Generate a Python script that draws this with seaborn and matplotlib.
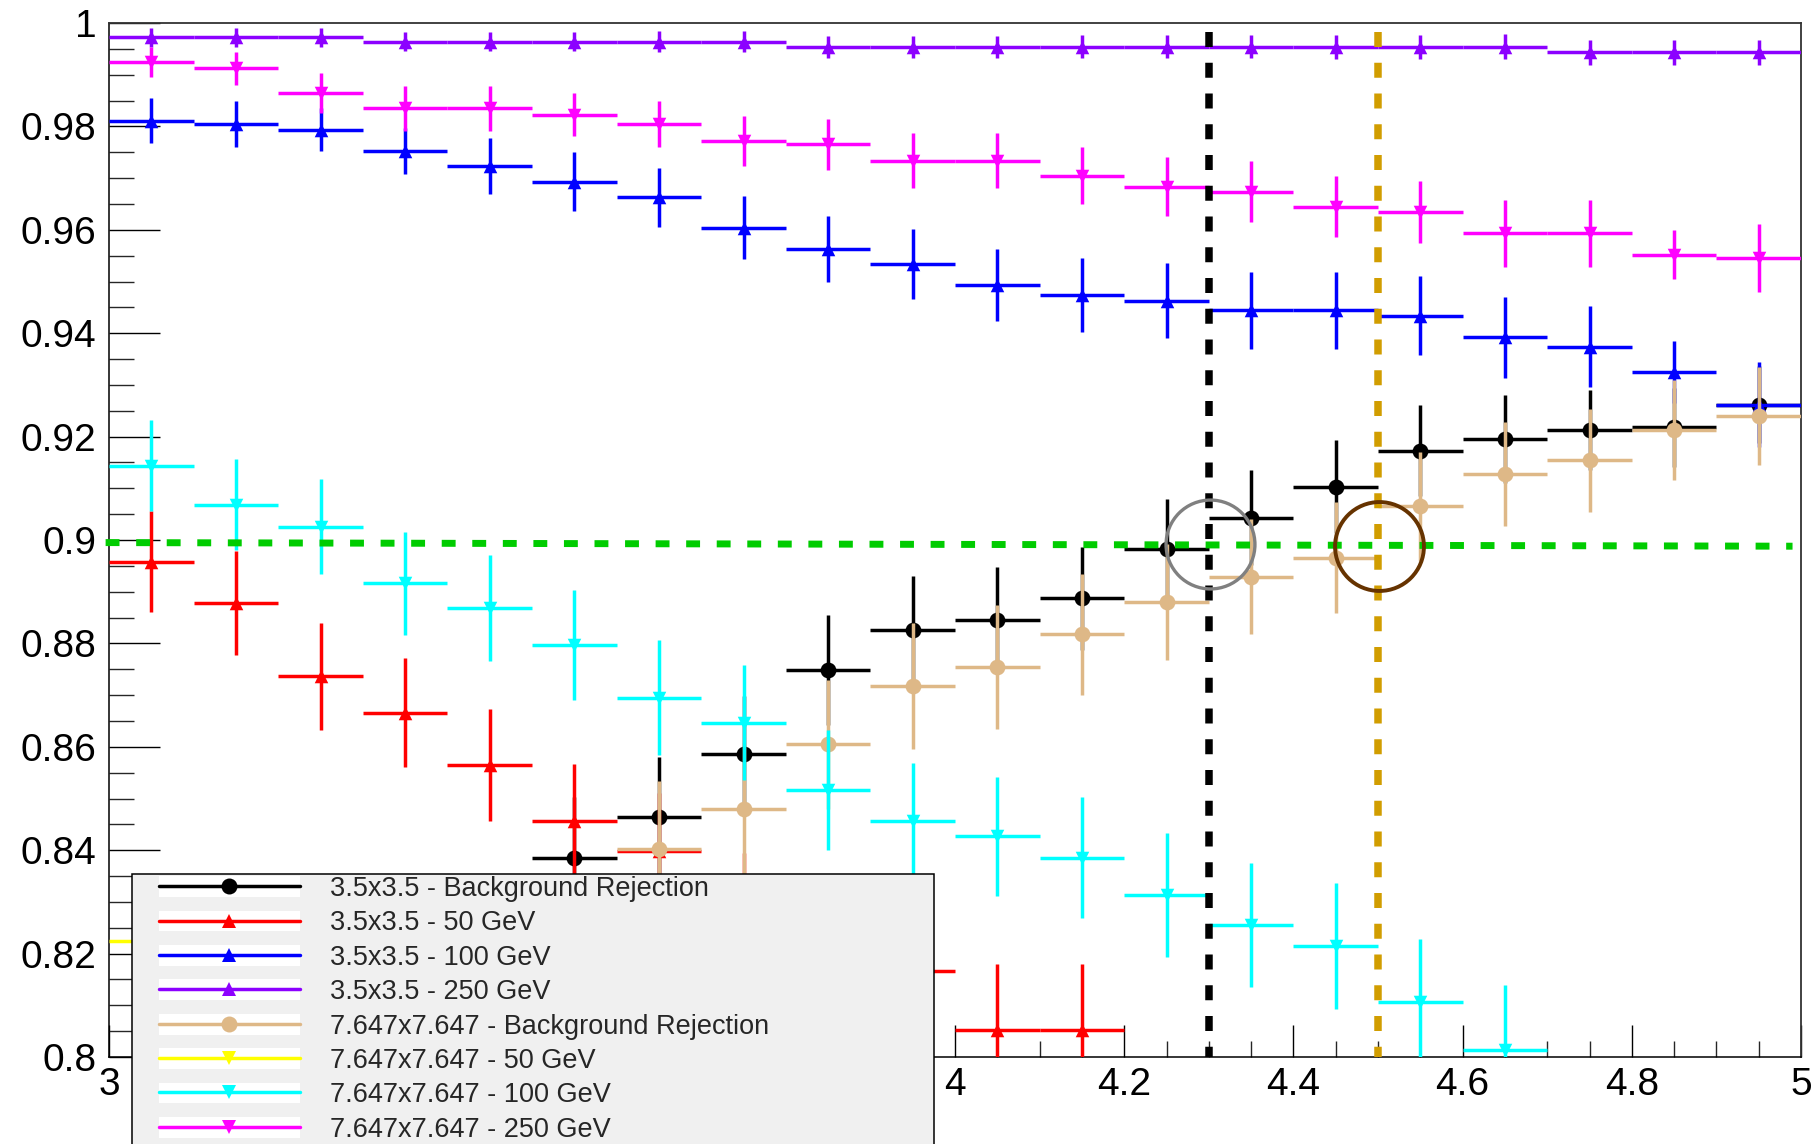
import numpy as np
import pandas as pd
import seaborn as sns
import matplotlib.pyplot as plt
from matplotlib.lines import Line2D
from matplotlib.patches import Patch, Rectangle
from matplotlib.legend_handler import HandlerTuple
from matplotlib.ticker import MultipleLocator, FuncFormatter

# ******************* data *******************
bin_centres = [3.05, 3.15, 3.25, 3.35, 3.45, 3.55, 3.65, 3.75, 3.85, 3.95,
               4.05, 4.15, 4.25, 4.35, 4.45, 4.55, 4.65, 4.75, 4.85, 4.95]
bin_half_width = 0.05

series_labels = [
    "3.5x3.5 - Background Rejection",
    "3.5x3.5 - 50 GeV",
    "3.5x3.5 - 100 GeV",
    "3.5x3.5 - 250 GeV",
    "7.647x7.647 - Background Rejection",
    "7.647x7.647 - 50 GeV",
    "7.647x7.647 - 100 GeV",
    "7.647x7.647 - 250 GeV",
]

rej_35 = [0.795, 0.800, 0.808, 0.815, 0.822, 0.8385, 0.8465, 0.8587, 0.8748, 0.8826,
          0.8845, 0.8887, 0.8983, 0.9043, 0.9103, 0.9173, 0.9195, 0.9213, 0.9218, 0.9262]
err_rej_35 = [0.012, 0.012, 0.012, 0.012, 0.012, 0.0118, 0.0115, 0.0112, 0.0106, 0.0104,
              0.0102, 0.0099, 0.0096, 0.0092, 0.0090, 0.0088, 0.0085, 0.0078, 0.0076, 0.0074]

sig50_35 = [0.8958, 0.8878, 0.8736, 0.8666, 0.8565, 0.8456, 0.8398, 0.828, 0.822, 0.8166,
            0.8053, 0.8053, 0.786, 0.782, 0.778, 0.774, 0.770, 0.766, 0.762, 0.758]
err_sig50_35 = [0.0098, 0.0100, 0.0103, 0.0105, 0.0108, 0.0110, 0.0112, 0.0115, 0.0118, 0.0121,
                0.0126, 0.0126, 0.0130, 0.0132, 0.0134, 0.0136, 0.0138, 0.0140, 0.0142, 0.0144]

sig100_35 = [0.9811, 0.9805, 0.9794, 0.9752, 0.9723, 0.9693, 0.9663, 0.9604, 0.9563, 0.9534,
             0.9493, 0.9474, 0.9463, 0.9444, 0.9444, 0.9434, 0.9392, 0.9374, 0.9325, 0.9262]
err_sig100_35 = [0.0043, 0.0045, 0.0042, 0.0045, 0.0054, 0.0057, 0.0057, 0.0061, 0.0064, 0.0068,
                 0.0070, 0.0072, 0.0072, 0.0074, 0.0074, 0.0076, 0.0078, 0.0079, 0.0060, 0.0083]

sig250_35 = [0.9972, 0.9972, 0.9972, 0.9964, 0.9964, 0.9964, 0.9964, 0.9964, 0.9954, 0.9954,
             0.9954, 0.9954, 0.9954, 0.9954, 0.9954, 0.9954, 0.9954, 0.9943, 0.9943, 0.9943]
err_sig250_35 = [0.0018, 0.0018, 0.0018, 0.0019, 0.0019, 0.0019, 0.0020, 0.0020, 0.0021, 0.0021,
                 0.0021, 0.0022, 0.0022, 0.0022, 0.0023, 0.0023, 0.0024, 0.0024, 0.0025, 0.0025]

rej_7647 = [0.790, 0.797, 0.804, 0.810, 0.815, 0.820, 0.8402, 0.8480, 0.8605, 0.8718,
            0.8755, 0.8818, 0.8880, 0.8929, 0.8966, 0.9065, 0.9128, 0.9154, 0.9213, 0.9240]
err_rej_7647 = [0.013, 0.013, 0.013, 0.013, 0.013, 0.013, 0.0132, 0.0128, 0.0125, 0.0122,
                0.0120, 0.0117, 0.0113, 0.0111, 0.0108, 0.0105, 0.0101, 0.0099, 0.0097, 0.0095]

sig50_7647 = [0.8225, 0.814, 0.806, 0.800, 0.795, 0.790, 0.786, 0.782, 0.778, 0.774,
              0.770, 0.766, 0.762, 0.758, 0.754, 0.750, 0.746, 0.742, 0.738, 0.734]
err_sig50_7647 = [0.011, 0.011, 0.011, 0.011, 0.011, 0.011, 0.011, 0.011, 0.011, 0.011,
                  0.011, 0.011, 0.011, 0.011, 0.011, 0.011, 0.011, 0.011, 0.011, 0.011]

sig100_7647 = [0.9144, 0.9068, 0.9026, 0.8916, 0.8868, 0.8797, 0.8695, 0.8647, 0.8516, 0.8456,
               0.8427, 0.8385, 0.8314, 0.8255, 0.8215, 0.8107, 0.8013, 0.785, 0.780, 0.775]
err_sig100_7647 = [0.0088, 0.0088, 0.0092, 0.0100, 0.0103, 0.0107, 0.0111, 0.0111, 0.0116, 0.0112,
                   0.0115, 0.0117, 0.0120, 0.0120, 0.0122, 0.0122, 0.0126, 0.0128, 0.0130, 0.0132]

sig250_7647 = [0.9924, 0.9912, 0.9864, 0.9835, 0.9835, 0.9823, 0.9805, 0.9772, 0.9765, 0.9734,
               0.9734, 0.9705, 0.9683, 0.9674, 0.9645, 0.9634, 0.9593, 0.9593, 0.9552, 0.9545]
err_sig250_7647 = [0.0029, 0.0031, 0.0039, 0.0043, 0.0043, 0.0041, 0.0044, 0.0048, 0.0049, 0.0053,
                   0.0053, 0.0055, 0.0057, 0.0059, 0.0059, 0.0060, 0.0064, 0.0064, 0.0048, 0.0066]

# cut positions / working point marked on the plot
cut_35 = 4.3
cut_7647 = 4.5
target_y_start = 0.8995
target_y_end = 0.8988
circle_35 = (4.302, 0.8992)
circle_7647 = (4.501, 0.8989)

# x tick labels that sit under the legend box in the reference
hidden_xlabels = [3.2, 3.4, 3.6, 3.8]

series_values = [rej_35, sig50_35, sig100_35, sig250_35,
                 rej_7647, sig50_7647, sig100_7647, sig250_7647]
series_errors = [err_rej_35, err_sig50_35, err_sig100_35, err_sig250_35,
                 err_rej_7647, err_sig50_7647, err_sig100_7647, err_sig250_7647]

series_colors = ["#000000", "#ff0000", "#0000ff", "#8c00ff",
                 "#deb887", "#ffff00", "#00ffff", "#ff00ff"]
series_markers = ["o", "^", "^", "^", "o", "v", "v", "v"]

# long-form table
rows = []
for lab, vals, errs in zip(series_labels, series_values, series_errors):
    for xc, v, e in zip(bin_centres, vals, errs):
        rows.append({"series": lab, "x": xc, "y": v, "err": e})
df = pd.DataFrame(rows)

# ******************* plot *******************
sns.set_style("white")
plt.rcParams["font.family"] = ["Liberation Sans", "DejaVu Sans"]

W, H = 1813, 1144
fig = plt.figure(figsize=(W / 100, H / 100), dpi=100)
ax = fig.add_axes([109 / W, 1 - 1057 / H, (1801 - 109) / W, (1057 - 23) / H])

line_w = 2.5
for i, lab in enumerate(series_labels):
    sub = df[df["series"] == lab]
    z = 3 + i * 0.1
    ax.errorbar(sub["x"], sub["y"], xerr=bin_half_width, yerr=sub["err"], fmt="none",
                ecolor=series_colors[i], elinewidth=line_w, capsize=0, zorder=z)
    msize = 130 if series_markers[i] == "o" else 95
    sns.scatterplot(data=sub, x="x", y="y", marker=series_markers[i], s=msize,
                    color=series_colors[i], linewidth=0, ax=ax, zorder=z + 0.05,
                    legend=False)

# working point lines
ax.plot([cut_35, cut_35], [0.9983, 0.8], color="black", lw=5.4,
        dashes=(2.0, 2.1), zorder=10, dash_capstyle="butt")
ax.plot([cut_7647, cut_7647], [0.9983, 0.8], color="#d19d00", lw=5.4,
        dashes=(2.0, 2.1), zorder=10, dash_capstyle="butt")
ax.plot([2.996, 4.99], [target_y_start, target_y_end], color="#00cc00", lw=5.0,
        dashes=(2.0, 2.4), zorder=10, dash_capstyle="butt", clip_on=False)
ax.plot([circle_35[0]], [circle_35[1]], marker="o", markersize=64, markerfacecolor="none",
        markeredgecolor="#808080", markeredgewidth=2.4, zorder=11)
ax.plot([circle_7647[0]], [circle_7647[1]], marker="o", markersize=64, markerfacecolor="none",
        markeredgecolor="#663300", markeredgewidth=2.8, zorder=11)

ax.set_xlim(3, 5)
ax.set_ylim(0.8, 1.0)
ax.set_xlabel("")
ax.set_ylabel("")

ax.xaxis.set_major_locator(MultipleLocator(0.2))
ax.xaxis.set_minor_locator(MultipleLocator(0.05))
ax.yaxis.set_major_locator(MultipleLocator(0.02))
ax.yaxis.set_minor_locator(MultipleLocator(0.005))


def xfmt(v, p):
    if any(abs(v - h) < 1e-6 for h in hidden_xlabels):
        return ""
    return f"{v:g}"


ax.xaxis.set_major_formatter(FuncFormatter(xfmt))
ax.yaxis.set_major_formatter(FuncFormatter(lambda v, p: f"{v:g}"))

ax.tick_params(axis="y", which="major", direction="in", length=36.7, width=1.0,
               left=True, right=False, labelsize=28, pad=9, colors="black")
ax.tick_params(axis="y", which="minor", direction="in", length=18, width=1.0,
               left=True, right=False)
ax.tick_params(axis="x", which="major", direction="in", length=23, width=1.0,
               bottom=True, top=False, labelsize=28, pad=7, colors="black")
ax.tick_params(axis="x", which="minor", direction="in", length=11.5, width=1.0,
               bottom=True, top=False)

for side in ["left", "bottom"]:
    ax.spines[side].set_color("black")
    ax.spines[side].set_linewidth(1.1)
for side in ["top", "right"]:
    ax.spines[side].set_color("#333333")
    ax.spines[side].set_linewidth(1.3)

# legend box (ROOT style, runs off the bottom of the canvas)
box = Rectangle((132 / W, -0.1), (934 - 132) / W, 0.1 + (1 - 874 / H),
                transform=fig.transFigure, facecolor="#f0f0f0", edgecolor="black",
                linewidth=1.1, zorder=4)
fig.add_artist(box)

handles = []
for i in range(len(series_labels)):
    ms = 11.5 if series_markers[i] == "o" else 9.5
    ln = Line2D([], [], color=series_colors[i], lw=line_w, marker=series_markers[i],
                markersize=ms, markeredgewidth=0)
    handles.append((Patch(facecolor="white", edgecolor="none"), ln))

fig.legend(handles, series_labels, loc="upper left",
           bbox_to_anchor=(159 / W, 1 - 876 / H), frameon=False, fontsize=19.5,
           handlelength=5.2, handleheight=0.8, handletextpad=1.1, labelspacing=0.31,
           borderpad=0, borderaxespad=0,
           handler_map={tuple: HandlerTuple(ndivide=1, pad=0)})

plt.savefig("out.png", dpi=100)
